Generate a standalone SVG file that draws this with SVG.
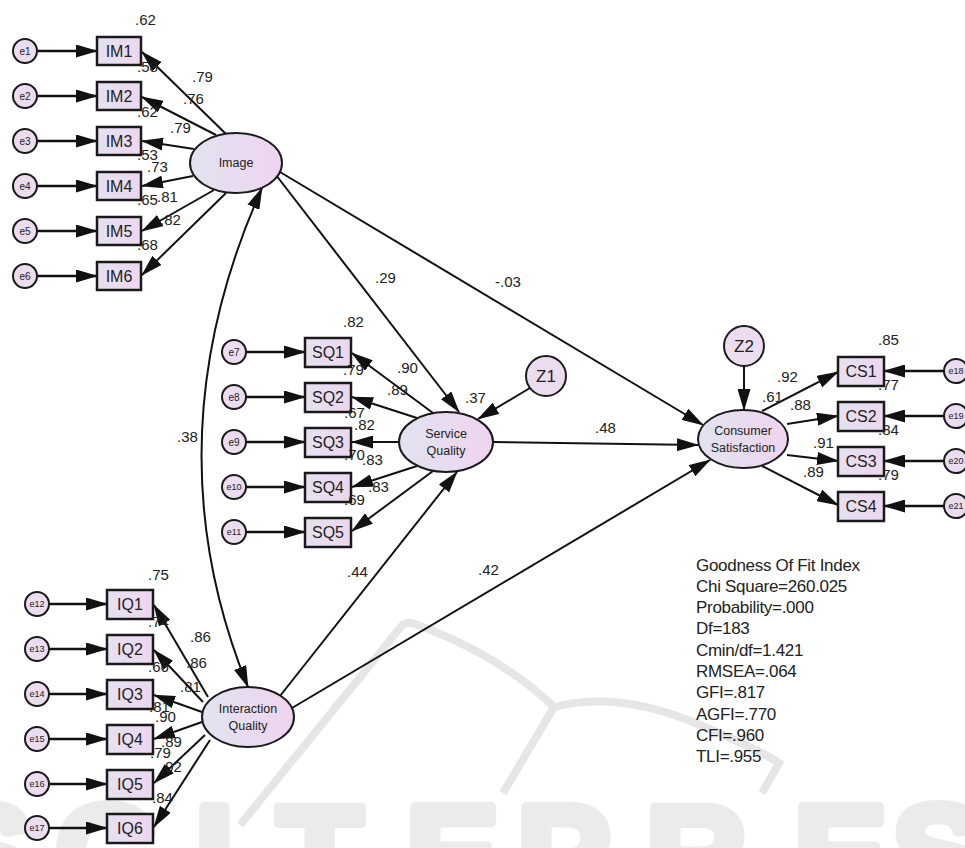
<svg xmlns="http://www.w3.org/2000/svg" width="965" height="848" viewBox="0 0 965 848">
<defs>
<linearGradient id="gl" x1="0" y1="0" x2="1" y2="0"><stop offset="0" stop-color="#e2e3ef"/><stop offset="1" stop-color="#efd4ef"/></linearGradient>
<linearGradient id="gb" x1="0" y1="0" x2="1" y2="0"><stop offset="0" stop-color="#e6e1f1"/><stop offset="1" stop-color="#ecd7ef"/></linearGradient>
<marker id="ah" markerUnits="userSpaceOnUse" viewBox="0 0 22 13" markerWidth="22" markerHeight="13" refX="21" refY="6.5" orient="auto-start-reverse"><path d="M0,0 L22,6.5 L0,13 z" fill="#111"/></marker>
<style>
.wm{font-family:"Liberation Sans",Arial,sans-serif;font-weight:bold;font-size:140px;fill:#ebebeb;stroke:#ebebeb;stroke-width:10px;stroke-linejoin:round}
.wml{fill:none;stroke:#e6e6e6;stroke-width:8}
.c{stroke:#111;stroke-width:2;fill:none;marker-end:url(#ah)}
.ce{stroke:#111;stroke-width:2.5;fill:none;marker-end:url(#ah)}
.box{fill:url(#gb);stroke:#1a1a1a;stroke-width:2.5}
.lat{fill:url(#gl);stroke:#1a1a1a;stroke-width:2}
.err{fill:#ecdcf0;stroke:#1a1a1a;stroke-width:2}
text{font-family:"Liberation Sans",Arial,sans-serif;fill:#222}
.bt{font-size:16px;text-anchor:middle}
.lt{font-size:12.5px;text-anchor:middle}
.et{font-size:10px;text-anchor:middle}
.et2{font-size:9px;text-anchor:middle}
.zt{font-size:17px;text-anchor:middle}
.n{font-size:15px}
.gf{font-size:17px;letter-spacing:-0.3px}
</style>
</defs>
<rect width="965" height="848" fill="#fff"/>
<g id="watermark">
<path class="wml" d="M240,825 L400,628 Q406,620 415,624 Q500,655 554,707 M554,707 L503,793 M554,707 Q620,690 700,725 Q760,750 779,763 L762,793"/>
<text class="wm" x="-60 55 195 277 406 517 646 794 892" y="903">SCITEPRES</text>
</g>
<g id="connectors">
<line class="ce" x1="37" y1="51" x2="97" y2="51"/>
<line class="ce" x1="37" y1="96" x2="97" y2="96"/>
<line class="ce" x1="37" y1="141" x2="97" y2="141"/>
<line class="ce" x1="37" y1="186" x2="97" y2="186"/>
<line class="ce" x1="37" y1="231" x2="97" y2="231"/>
<line class="ce" x1="37" y1="276" x2="97" y2="276"/>
<line class="c" x1="226" y1="134" x2="142" y2="52"/>
<line class="c" x1="216" y1="135" x2="142" y2="97"/>
<line class="c" x1="194" y1="149" x2="142" y2="141"/>
<line class="c" x1="193" y1="176" x2="142" y2="186"/>
<line class="c" x1="214" y1="190" x2="142" y2="231"/>
<line class="c" x1="226" y1="193" x2="142" y2="275"/>
<line class="ce" x1="246" y1="352" x2="305" y2="352"/>
<line class="ce" x1="246" y1="397" x2="305" y2="397"/>
<line class="ce" x1="246" y1="442" x2="305" y2="442"/>
<line class="ce" x1="246" y1="487" x2="305" y2="487"/>
<line class="ce" x1="246" y1="532" x2="305" y2="532"/>
<line class="c" x1="433" y1="413" x2="352" y2="353"/>
<line class="c" x1="417" y1="418" x2="352" y2="397"/>
<line class="c" x1="399" y1="442" x2="352" y2="442"/>
<line class="c" x1="417" y1="466" x2="352" y2="487"/>
<line class="c" x1="433" y1="471" x2="352" y2="531"/>
<line class="ce" x1="49" y1="604" x2="107" y2="604"/>
<line class="ce" x1="49" y1="649" x2="107" y2="649"/>
<line class="ce" x1="49" y1="694" x2="107" y2="694"/>
<line class="ce" x1="49" y1="739" x2="107" y2="739"/>
<line class="ce" x1="49" y1="784" x2="107" y2="784"/>
<line class="ce" x1="49" y1="828" x2="107" y2="828"/>
<line class="c" x1="208" y1="697" x2="154" y2="605"/>
<line class="c" x1="203" y1="702" x2="154" y2="650"/>
<line class="c" x1="202" y1="712" x2="154" y2="695"/>
<line class="c" x1="202" y1="722" x2="154" y2="739"/>
<line class="c" x1="205" y1="735" x2="154" y2="783"/>
<line class="c" x1="210" y1="740" x2="154" y2="827"/>
<line class="ce" x1="944" y1="371" x2="884" y2="371"/>
<line class="ce" x1="944" y1="416" x2="884" y2="416"/>
<line class="ce" x1="944" y1="461" x2="884" y2="461"/>
<line class="ce" x1="944" y1="506" x2="884" y2="506"/>
<line class="c" x1="762" y1="411" x2="838" y2="372"/>
<line class="c" x1="787" y1="424" x2="838" y2="416"/>
<line class="c" x1="787" y1="455" x2="838" y2="461"/>
<line class="c" x1="762" y1="466" x2="838" y2="505"/>
<line class="c" x1="276" y1="175" x2="459" y2="412"/>
<line class="c" x1="280" y1="172" x2="703" y2="425"/>
<line class="c" x1="493" y1="442" x2="698" y2="445"/>
<line class="c" x1="280" y1="696" x2="457" y2="472"/>
<line class="c" x1="292" y1="708" x2="710" y2="460"/>
<line class="c" x1="530" y1="388" x2="478" y2="419"/>
<line class="c" x1="744" y1="366" x2="744" y2="410"/>
<path class="c" style="marker-start:url(#ah)" d="M262,188 Q148.5,442 248,687"/>
</g>
<g id="e1"><circle class="err" cx="25" cy="51" r="12"/><text class="et" x="25" y="55">e1</text></g>
<g id="e2"><circle class="err" cx="25" cy="96" r="12"/><text class="et" x="25" y="100">e2</text></g>
<g id="e3"><circle class="err" cx="25" cy="141" r="12"/><text class="et" x="25" y="145">e3</text></g>
<g id="e4"><circle class="err" cx="25" cy="186" r="12"/><text class="et" x="25" y="190">e4</text></g>
<g id="e5"><circle class="err" cx="25" cy="231" r="12"/><text class="et" x="25" y="235">e5</text></g>
<g id="e6"><circle class="err" cx="25" cy="276" r="12"/><text class="et" x="25" y="280">e6</text></g>
<g id="IM1"><rect class="box" x="97" y="37" width="44" height="28"/><text class="bt" x="119" y="57">IM1</text></g>
<g id="IM2"><rect class="box" x="97" y="82" width="44" height="28"/><text class="bt" x="119" y="102">IM2</text></g>
<g id="IM3"><rect class="box" x="97" y="127" width="44" height="28"/><text class="bt" x="119" y="147">IM3</text></g>
<g id="IM4"><rect class="box" x="97" y="172" width="44" height="28"/><text class="bt" x="119" y="192">IM4</text></g>
<g id="IM5"><rect class="box" x="97" y="217" width="44" height="28"/><text class="bt" x="119" y="237">IM5</text></g>
<g id="IM6"><rect class="box" x="97" y="262" width="44" height="28"/><text class="bt" x="119" y="282">IM6</text></g>
<g id="Image"><ellipse class="lat" cx="236" cy="163" rx="46" ry="30"/><text class="lt" x="236" y="167">Image</text></g>
<g id="e7"><circle class="err" cx="234" cy="352" r="12"/><text class="et" x="234" y="356">e7</text></g>
<g id="e8"><circle class="err" cx="234" cy="397" r="12"/><text class="et" x="234" y="401">e8</text></g>
<g id="e9"><circle class="err" cx="234" cy="442" r="12"/><text class="et" x="234" y="446">e9</text></g>
<g id="e10"><circle class="err" cx="234" cy="487" r="12"/><text class="et2" x="234" y="490">e10</text></g>
<g id="e11"><circle class="err" cx="234" cy="532" r="12"/><text class="et2" x="234" y="535">e11</text></g>
<g id="SQ1"><rect class="box" x="305" y="338" width="46" height="29"/><text class="bt" x="328" y="358">SQ1</text></g>
<g id="SQ2"><rect class="box" x="305" y="383" width="46" height="29"/><text class="bt" x="328" y="403">SQ2</text></g>
<g id="SQ3"><rect class="box" x="305" y="428" width="46" height="29"/><text class="bt" x="328" y="448">SQ3</text></g>
<g id="SQ4"><rect class="box" x="305" y="473" width="46" height="29"/><text class="bt" x="328" y="493">SQ4</text></g>
<g id="SQ5"><rect class="box" x="305" y="518" width="46" height="29"/><text class="bt" x="328" y="538">SQ5</text></g>
<g id="ServiceQuality"><ellipse class="lat" cx="446" cy="442" rx="47" ry="30"/><text class="lt" x="446" y="438">Service</text><text class="lt" x="446" y="455">Quality</text></g>
<g id="Z1"><circle class="err" cx="546" cy="376" r="20"/><text class="zt" x="546" y="382">Z1</text></g>
<g id="e12"><circle class="err" cx="37" cy="604" r="12"/><text class="et2" x="37" y="607">e12</text></g>
<g id="e13"><circle class="err" cx="37" cy="649" r="12"/><text class="et2" x="37" y="652">e13</text></g>
<g id="e14"><circle class="err" cx="37" cy="694" r="12"/><text class="et2" x="37" y="697">e14</text></g>
<g id="e15"><circle class="err" cx="37" cy="739" r="12"/><text class="et2" x="37" y="742">e15</text></g>
<g id="e16"><circle class="err" cx="37" cy="784" r="12"/><text class="et2" x="37" y="787">e16</text></g>
<g id="e17"><circle class="err" cx="37" cy="828" r="12"/><text class="et2" x="37" y="831">e17</text></g>
<g id="IQ1"><rect class="box" x="107" y="590" width="46" height="29"/><text class="bt" x="130" y="610">IQ1</text></g>
<g id="IQ2"><rect class="box" x="107" y="635" width="46" height="29"/><text class="bt" x="130" y="655">IQ2</text></g>
<g id="IQ3"><rect class="box" x="107" y="680" width="46" height="29"/><text class="bt" x="130" y="700">IQ3</text></g>
<g id="IQ4"><rect class="box" x="107" y="725" width="46" height="29"/><text class="bt" x="130" y="745">IQ4</text></g>
<g id="IQ5"><rect class="box" x="107" y="770" width="46" height="29"/><text class="bt" x="130" y="790">IQ5</text></g>
<g id="IQ6"><rect class="box" x="107" y="814" width="46" height="29"/><text class="bt" x="130" y="834">IQ6</text></g>
<g id="InteractionQuality"><ellipse class="lat" cx="248" cy="717" rx="46" ry="30"/><text class="lt" x="248" y="713">Interaction</text><text class="lt" x="248" y="730">Quality</text></g>
<g id="Z2"><circle class="err" cx="744" cy="346" r="20"/><text class="zt" x="744" y="352">Z2</text></g>
<g id="ConsumerSatisfaction"><ellipse class="lat" cx="743" cy="439" rx="45" ry="29"/><text class="lt" x="743" y="435">Consumer</text><text class="lt" x="743" y="452">Satisfaction</text></g>
<g id="CS1"><rect class="box" x="838" y="357" width="46" height="29"/><text class="bt" x="861" y="377">CS1</text></g>
<g id="CS2"><rect class="box" x="838" y="402" width="46" height="29"/><text class="bt" x="861" y="422">CS2</text></g>
<g id="CS3"><rect class="box" x="838" y="447" width="46" height="29"/><text class="bt" x="861" y="467">CS3</text></g>
<g id="CS4"><rect class="box" x="838" y="492" width="46" height="29"/><text class="bt" x="861" y="512">CS4</text></g>
<g id="e18"><circle class="err" cx="956" cy="371" r="12"/><text class="et2" x="956" y="374">e18</text></g>
<g id="e19"><circle class="err" cx="956" cy="416" r="12"/><text class="et2" x="956" y="419">e19</text></g>
<g id="e20"><circle class="err" cx="956" cy="461" r="12"/><text class="et2" x="956" y="464">e20</text></g>
<g id="e21"><circle class="err" cx="956" cy="506" r="12"/><text class="et2" x="956" y="509">e21</text></g>
<g id="labels" class="n">
<text class="n" x="135" y="25">.62</text>
<text class="n" x="192" y="82">.79</text>
<text class="n" x="137" y="72">.58</text>
<text class="n" x="183" y="104">.76</text>
<text class="n" x="137" y="117">.62</text>
<text class="n" x="170" y="133">.79</text>
<text class="n" x="137" y="160">.53</text>
<text class="n" x="147" y="172">.73</text>
<text class="n" x="137" y="205">.65</text>
<text class="n" x="157" y="202">.81</text>
<text class="n" x="160" y="225">.82</text>
<text class="n" x="137" y="250">.68</text>
<text class="n" x="343" y="327">.82</text>
<text class="n" x="397" y="373">.90</text>
<text class="n" x="343" y="375">.79</text>
<text class="n" x="387" y="395">.89</text>
<text class="n" x="465" y="403">.37</text>
<text class="n" x="344" y="418">.67</text>
<text class="n" x="354" y="430">.82</text>
<text class="n" x="344" y="460">.70</text>
<text class="n" x="362" y="465">.83</text>
<text class="n" x="368" y="492">.83</text>
<text class="n" x="344" y="505">.69</text>
<text class="n" x="375" y="283">.29</text>
<text class="n" x="495" y="287">-.03</text>
<text class="n" x="595" y="433">.48</text>
<text class="n" x="177" y="442">.38</text>
<text class="n" x="347" y="577">.44</text>
<text class="n" x="478" y="575">.42</text>
<text class="n" x="148" y="580">.75</text>
<text class="n" x="190" y="642">.86</text>
<text class="n" x="148" y="627">.74</text>
<text class="n" x="186" y="668">.86</text>
<text class="n" x="148" y="672">.66</text>
<text class="n" x="180" y="692">.81</text>
<text class="n" x="149" y="712">.81</text>
<text class="n" x="155" y="722">.90</text>
<text class="n" x="161" y="747">.89</text>
<text class="n" x="150" y="758">.79</text>
<text class="n" x="161" y="772">.92</text>
<text class="n" x="152" y="803">.84</text>
<text class="n" x="878" y="345">.85</text>
<text class="n" x="777" y="382">.92</text>
<text class="n" x="878" y="390">.77</text>
<text class="n" x="762" y="402">.61</text>
<text class="n" x="790" y="410">.88</text>
<text class="n" x="878" y="435">.84</text>
<text class="n" x="813" y="448">.91</text>
<text class="n" x="878" y="480">.79</text>
<text class="n" x="803" y="477">.89</text>
</g>
<g id="fitIndex">
<text class="gf" x="696" y="571">Goodness Of Fit Index</text>
<text class="gf" x="696" y="592">Chi Square=260.025</text>
<text class="gf" x="696" y="613">Probability=.000</text>
<text class="gf" x="696" y="634">Df=183</text>
<text class="gf" x="696" y="656">Cmin/df=1.421</text>
<text class="gf" x="696" y="677">RMSEA=.064</text>
<text class="gf" x="696" y="698">GFI=.817</text>
<text class="gf" x="696" y="720">AGFI=.770</text>
<text class="gf" x="696" y="741">CFI=.960</text>
<text class="gf" x="696" y="762">TLI=.955</text>
</g>
</svg>
